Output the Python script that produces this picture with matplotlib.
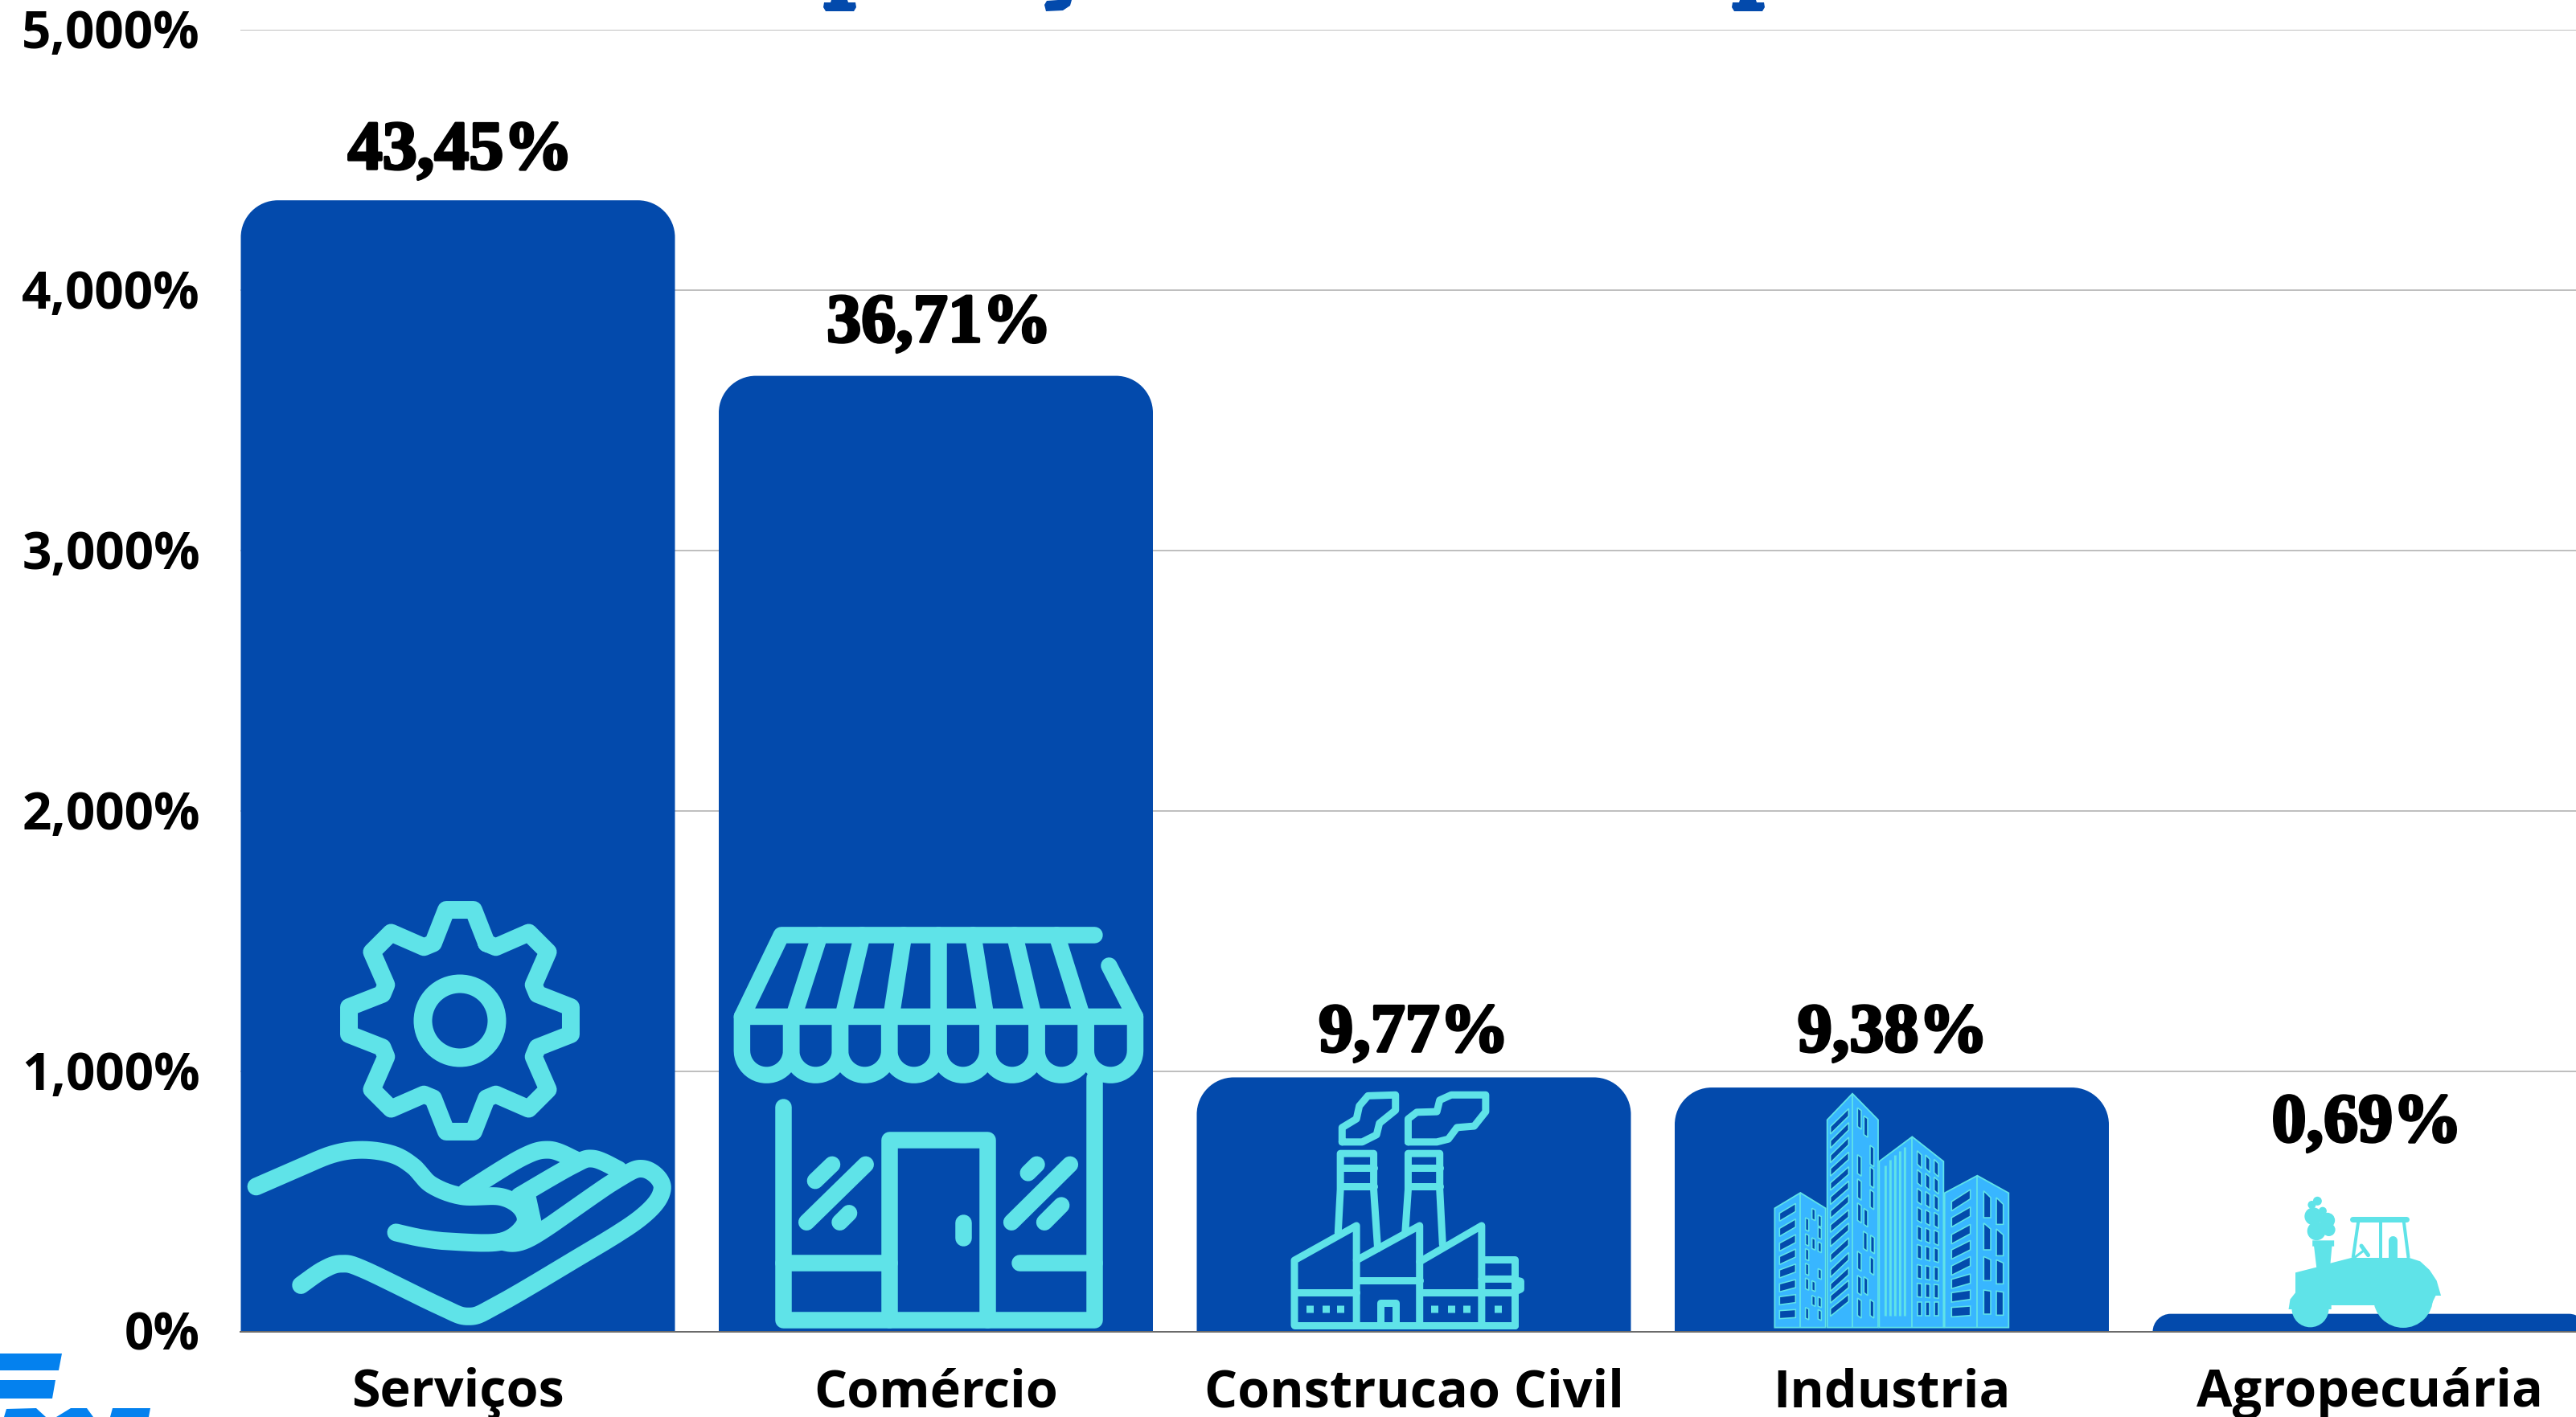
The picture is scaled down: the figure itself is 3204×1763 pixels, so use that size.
from __future__ import annotations

import matplotlib

matplotlib.use("Agg")

import matplotlib.patheffects as pe
import matplotlib.pyplot as plt
import numpy as np
from matplotlib.patches import Ellipse, PathPatch, Polygon
from matplotlib.path import Path
from matplotlib.transforms import ScaledTranslation

WIDTH, HEIGHT = 3204, 1763
DPI = 100
BAR_COLOR = "#034AAC"
ICON_COLOR = "#5FE3E8"
TOWER_COLOR = "#38B6FF"
LOGO_COLOR = "#0481EE"

categories = ["Serviços", "Comércio", "Construcao Civil", "Industria", "Agropecuária"]
values = [4345, 3671, 977, 938, 69]
value_labels = ["43,45%", "36,71%", "9,77%", "9,38%", "0,69%"]
label_heights = [4466, 3802, 1077, 1077, 731]
label_shifts = [0.005, 0.007, 0.0, 0.002, -0.006]
y_ticks = [0, 1000, 2000, 3000, 4000, 5000]
y_tick_labels = ["0%", "1,000%", "2,000%", "3,000%", "4,000%", "5,000%"]


def pts(width_px: float) -> float:
    return width_px * 72 / DPI


def zoomed(points, x0: float, y0: float, sx: float, sy: float) -> np.ndarray:
    arr = np.asarray(points, dtype=float)
    return np.column_stack([x0 + arr[:, 0] / sx, y0 + arr[:, 1] / sy])


def smooth(points: np.ndarray, steps: int = 14) -> np.ndarray:
    # catmull-rom through the traced points, the icons are curvy
    p = np.vstack([points[0], points, points[-1]])
    out = []
    for i in range(1, len(p) - 2):
        for t in np.linspace(0, 1, steps, endpoint=False):
            out.append(
                0.5
                * (
                    2 * p[i]
                    + (p[i + 1] - p[i - 1]) * t
                    + (2 * p[i - 1] - 5 * p[i] + 4 * p[i + 1] - p[i + 2]) * t**2
                    + (3 * p[i] - p[i - 1] - 3 * p[i + 1] + p[i + 2]) * t**3
                )
            )
    out.append(points[-1])
    return np.array(out)


def stroke(ax, line: np.ndarray, width_px: float, color: str = ICON_COLOR, cap: str = "round") -> None:
    ax.plot(line[:, 0], line[:, 1], color=color, lw=pts(width_px), solid_capstyle=cap, solid_joinstyle="round")


def rounded_bar(x: float, top: float, half_width: float, rx: float, ry: float) -> Path:
    left, right = x - half_width, x + half_width
    k = 0.45  # control point distance left from the corner
    verts = [
        (left, 0),
        (left, top - ry),
        (left, top - ry * k),
        (left + rx * k, top),
        (left + rx, top),
        (right - rx, top),
        (right - rx * k, top),
        (right, top - ry * k),
        (right, top - ry),
        (right, 0),
        (left, 0),
    ]
    codes = [Path.MOVETO, Path.LINETO, Path.CURVE4, Path.CURVE4, Path.CURVE4, Path.LINETO, Path.CURVE4, Path.CURVE4, Path.CURVE4, Path.LINETO, Path.CLOSEPOLY]
    return Path(verts, codes)


def draw_gear_hand(ax) -> None:
    cx, cy = 572, 1270
    ring = Ellipse((cx, cy), 92, 92, fill=False, ec=ICON_COLOR, lw=pts(23))
    ax.add_patch(ring)
    gear = []
    for k in range(8):
        a = np.deg2rad(90 + 45 * k)
        for radius, delta in [(102, -19), (139, -7), (139, 7), (102, 19)]:
            d = np.deg2rad(delta)
            gear.append((cx + radius * np.cos(a + d), cy - radius * np.sin(a + d)))
    gear.append(gear[0])
    stroke(ax, np.array(gear), 22)

    hand = lambda line: zoomed(line, 0, 1100, 1.742, 2.365)
    arm = [(555, 890), (640, 840), (720, 795), (785, 782), (850, 795), (895, 830), (935, 885), (1000, 918), (1085, 920), (1130, 955), (1135, 1005), (1085, 1052), (980, 1052), (915, 1042), (858, 1025)]
    palm = [(652, 1180), (700, 1135), (740, 1117), (790, 1135), (950, 1240), (1015, 1272), (1075, 1240), (1220, 1125), (1385, 985), (1435, 895), (1395, 838), (1330, 875), (1150, 1040), (1085, 1052)]
    finger_one = [(1010, 905), (1130, 805), (1190, 782), (1245, 810)]
    finger_two = [(1125, 918), (1240, 828), (1285, 808), (1340, 840)]
    for line in (arm, palm, finger_one, finger_two):
        stroke(ax, smooth(hand(line)), 22)
    stroke(ax, hand([(1150, 925), (1162, 1000)]), 14)


def draw_store(ax) -> None:
    store = lambda line: zoomed(line, 880, 1100, 2.613, 2.365)
    stroke(ax, store([(1258, 150), (240, 150), (112, 390), (1390, 390), (1305, 240)]), 20.5)
    rib_tops = [365, 503, 638, 750, 863, 998, 1135]
    rib_bottoms = [280, 440, 597, 750, 905, 1060, 1218]
    for top, bottom in zip(rib_tops, rib_bottoms):
        stroke(ax, store([(top, 150), (bottom, 390)]), 20.5)
    edges = [112, 272, 431, 591, 751, 910, 1070, 1230, 1390]
    for left, right in zip(edges[:-1], edges[1:]):
        t = np.linspace(np.pi, 0, 24)
        arc = [(left, 390)] + list(zip((left + right) / 2 + (right - left) / 2 * np.cos(t), 490 + 72 * np.sin(t))) + [(right, 390)]
        stroke(ax, store(arc), 20.5)
    lines = [
        [(245, 655), (245, 1282), (1256, 1282), (1256, 570)],
        [(591, 1282), (591, 752), (910, 752), (910, 1282)],
        [(245, 1113), (591, 1113)],
        [(1015, 1113), (1256, 1113)],
        [(830, 995), (830, 1040)],
        [(322, 995), (514, 825)],
        [(350, 873), (405, 825)],
        [(430, 995), (460, 968)],
        [(988, 995), (1178, 825)],
        [(1042, 850), (1070, 825)],
        [(1095, 995), (1150, 945)],
    ]
    for line in lines:
        stroke(ax, store(line), 20.5)


def draw_factory(ax) -> None:
    fac = lambda line: zoomed(line, 1480, 1200, 1.4, 2.785)
    smoke_one = [(265, 615), (265, 565), (290, 535), (295, 490), (310, 455), (358, 452), (358, 505), (330, 550), (325, 590), (300, 615), (265, 615)]
    smoke_two = [(380, 615), (380, 535), (395, 512), (430, 510), (435, 470), (455, 452), (515, 452), (515, 510), (495, 560), (465, 565), (450, 605), (430, 615), (380, 615)]
    lines = [
        smoke_one,
        smoke_two,
        [(258, 930), (262, 780), (262, 655), (320, 655), (320, 780), (327, 985)],
        [(375, 925), (380, 780), (380, 655), (435, 655), (435, 780), (440, 970)],
        [(262, 705), (320, 705)],
        [(262, 770), (320, 770)],
        [(380, 705), (435, 705)],
        [(380, 770), (435, 770)],
        [(182, 1250), (182, 1025), (290, 905), (290, 1250)],
        [(290, 1025), (400, 905), (400, 1250)],
        [(400, 1030), (508, 905), (508, 1250)],
        [(508, 1023), (565, 1023), (565, 1250)],
        [(182, 1250), (565, 1250)],
        [(182, 1135), (290, 1135)],
        [(290, 1095), (400, 1095)],
        [(400, 1135), (565, 1135)],
        [(508, 1090), (560, 1090), (576, 1098), (576, 1125), (565, 1135)],
        [(332, 1245), (332, 1172), (358, 1172), (358, 1245)],
    ]
    for line in lines:
        stroke(ax, fac(line), 9)
    for x in [208, 237, 262, 426, 455, 482, 536]:
        stroke(ax, fac([(x, 1180), (x, 1205)]), 9, cap="butt")


def window(ax, corners) -> None:
    ax.add_patch(Polygon(corners, closed=True, fc=BAR_COLOR, ec=ICON_COLOR, lw=pts(1.6)))


def draw_towers(ax) -> None:
    tow = lambda line: zoomed(line, 2180, 1350, 3, 3)
    outlines = [
        ([(82, 905), (82, 460), (178, 402), (272, 460), (272, 905)], 178, 402),
        ([(278, 905), (278, 130), (372, 32), (468, 130), (468, 905)], 372, 32),
        ([(472, 905), (472, 285), (595, 193), (712, 285), (712, 905)], 595, 193),
        ([(716, 905), (716, 403), (838, 338), (955, 403), (955, 905)], 838, 338),
    ]
    for outline, ridge, ridge_top in outlines:
        ax.add_patch(Polygon(tow(outline), closed=True, fc=TOWER_COLOR, ec=ICON_COLOR, lw=pts(1.8)))
        stroke(ax, tow([(ridge, ridge_top), (ridge, 905)]), 1.8, cap="butt")

    # slanted windows on the left faces
    left_faces = [
        (100, 160, 30, [(478, 442), (535, 500), (590, 558), (640, 612), (690, 668), (742, 726), (790, 782), (842, 838)]),
        (290, 358, 28, [(155, 88), (208, 140), (262, 195), (312, 250), (365, 305), (418, 358), (470, 410), (522, 465), (575, 515), (632, 570), (690, 625), (742, 680), (786, 728), (835, 780)]),
        (742, 812, 35, [(435, 390), (495, 455), (558, 520), (615, 580), (675, 640), (725, 705), (775, 765), (830, 825)]),
    ]
    for x0, x1, h, rows in left_faces:
        for y0, y1 in rows:
            window(ax, tow([(x0, y0), (x1, y1), (x1, y1 + h), (x0, y0 + h)]))

    # small windows on the right faces, (x, y, height)
    small = [
        (14, 10, [(398, 85, 70), (422, 115, 70), (445, 225, 70), (398, 260, 70), (445, 305, 70), (398, 350, 70), (445, 390, 65), (398, 440, 65), (422, 460, 60), (420, 545, 65), (447, 560, 60), (398, 620, 65), (445, 640, 60), (398, 710, 65), (422, 715, 60), (398, 795, 65), (445, 800, 60)]),
        (12, 6, [(203, 495, 45), (227, 460, 40), (250, 485, 40), (203, 555, 40), (227, 570, 40), (250, 530, 40), (250, 585, 35), (203, 610, 40), (203, 665, 40), (250, 685, 35), (203, 720, 40), (227, 730, 35), (227, 785, 35), (250, 790, 35), (203, 830, 40), (250, 838, 35)]),
    ]
    for w, drop, rows in small:
        for x, y, h in rows:
            window(ax, tow([(x - w / 2, y), (x + w / 2, y + drop), (x + w / 2, y + h + drop), (x - w / 2, y + h)]))
    grid_rows = [(245, 16), (315, 14), (385, 12), (455, 10), (525, 8), (595, 6), (670, 4), (740, 2), (810, 0)]
    for row, drop in grid_rows:
        for col, x in enumerate([622, 653, 685]):
            y = row + col * drop
            window(ax, tow([(x - 8, y), (x + 8, y + drop), (x + 8, y + 50 + drop), (x - 8, y + 50)]))
    for row, offset in [(395, 25), (515, 22), (640, 12), (765, 4)]:
        for x, y in [(875, row), (922, row + offset)]:
            window(ax, tow([(x - 13, y), (x + 13, y + offset), (x + 13, y + 90 + (row < 600) * 10), (x - 13, y + 90 + (row < 600) * 10)]))
    for x, top in [(495, 300), (513, 280), (532, 262), (550, 247), (568, 230)]:
        stroke(ax, tow([(x, top), (x, 862)]), 3.2, color=ICON_COLOR, cap="butt")
        stroke(ax, tow([(x + 9, top + 2), (x + 9, 862)]), 2.4, color=TOWER_COLOR, cap="butt")


def draw_tractor(ax) -> None:
    tr = lambda line: zoomed(line, 2600, 1300, 2.596, 3)
    body = [(662, 850), (730, 830), (722, 752), (717, 752), (717, 730), (787, 730), (787, 752), (780, 752), (775, 815), (842, 795), (1030, 795), (1065, 808), (1095, 840), (1118, 880), (1132, 936), (1115, 936), (1100, 972), (778, 972), (778, 987), (640, 987), (645, 950), (662, 925)]
    ax.add_patch(Polygon(tr(body), closed=True, fc=ICON_COLOR, ec="none"))
    for (x, y), r in [(tr([(1010, 945)])[0], 37), (tr([(710, 985)])[0], 23)]:
        ax.add_patch(Ellipse((x, y), 2 * r, 2 * r, fc=ICON_COLOR, ec="none"))
    stroke(ax, tr([(845, 650), (1020, 650)]), 7)
    for line in ([(865, 660), (848, 795)], [(938, 660), (938, 795)], [(1012, 660), (1027, 795)]):
        stroke(ax, tr(line), 4, cap="butt")
    stroke(ax, tr([(975, 730), (975, 795)]), 11)
    stroke(ax, tr([(875, 750), (897, 785)]), 5)
    stroke(ax, tr([(880, 770), (855, 792)]), 3)
    puffs = [(733, 583, 5.5), (715, 597, 5), (750, 620, 5), (720, 640, 11), (765, 655, 9.5), (730, 695, 11.5), (770, 690, 8)]
    for x, y, r in puffs:
        centre = tr([(x, y)])[0]
        ax.add_patch(Ellipse(centre, 2 * r, 2 * r, fc=ICON_COLOR, ec="none"))


def draw_cut_off_pieces(ax) -> None:
    # what is left of the title and the logo at the image edges
    for x in (1024, 2154):
        ax.add_patch(Polygon([(x + 10, 0), (x + 30, 0), (x + 31, 3), (x + 40, 3), (x + 41, 9), (x + 38, 14), (x + 3, 14), (x, 9), (x + 1, 3), (x + 9, 3)], closed=True, fc=BAR_COLOR, ec="none"))
    ax.add_patch(Polygon([(1333, 0), (1331, 7), (1322, 13), (1301, 14), (1299, 6), (1302, 1), (1316, 0)], closed=True, fc=BAR_COLOR, ec="none"))
    logo = [
        [(0, 1684), (77, 1684), (73, 1705), (0, 1705)],
        [(0, 1717), (69, 1717), (65, 1740), (0, 1740)],
        [(5, 1763), (8, 1753), (45, 1752), (57, 1763)],
        [(70, 1763), (88, 1752), (108, 1752), (116, 1763)],
        [(137, 1763), (140, 1752), (187, 1752), (185, 1763)],
    ]
    for shape in logo:
        ax.add_patch(Polygon(shape, closed=True, fc=LOGO_COLOR, ec="none"))


def main() -> None:
    fig = plt.figure(figsize=(WIDTH / DPI, HEIGHT / DPI), dpi=DPI)
    ax = fig.add_axes([299 / WIDTH, 1 - 1657 / HEIGHT, (WIDTH - 299) / WIDTH, (1657 - 37) / HEIGHT])
    pitch = 594.5
    x = np.arange(len(categories))
    ax.set_xlim((299 - 569.5) / pitch, (WIDTH - 569.5) / pitch)
    ax.set_ylim(0, 5000)

    ax.set_axisbelow(True)
    ax.grid(axis="y", color="#BFBFBF", lw=pts(2))
    ax.set_yticks(y_ticks, y_tick_labels, fontfamily="Open Sans", fontweight="bold", fontsize=46)
    ax.set_xticks(x, categories, fontfamily="Open Sans", fontweight="bold", fontsize=46.5)
    ax.tick_params(axis="y", length=0, pad=36)
    ax.tick_params(axis="x", length=0, pad=67)
    down = ScaledTranslation(0, -6 / DPI, fig.dpi_scale_trans)
    for label in ax.get_xticklabels():
        label.set_verticalalignment("baseline")
    for label in ax.get_yticklabels():
        label.set_verticalalignment("center")
        label.set_transform(label.get_transform() + down)
    for side in ("top", "left", "right"):
        ax.spines[side].set_visible(False)
    ax.spines["bottom"].set_color("#6B6B6B")
    ax.spines["bottom"].set_linewidth(pts(2))

    px_per_unit = (1657 - 37) / 5000
    for pos, value in zip(x, values):
        corner = min(46, value * px_per_unit)
        patch = PathPatch(rounded_bar(pos, value, 270 / pitch, corner / pitch, corner / px_per_unit), fc=BAR_COLOR, ec="none", zorder=2)
        ax.add_patch(patch)

    for pos, height, shift, text in zip(x, label_heights, label_shifts, value_labels):
        ax.text(
            pos + shift,
            height,
            text,
            ha="center",
            va="baseline",
            family="Liberation Serif",
            fontweight="bold",
            fontsize=62,
            color="black",
            path_effects=[pe.withStroke(linewidth=pts(3.5), foreground="black")],
            clip_on=False,
        )

    overlay = fig.add_axes([0, 0, 1, 1], facecolor="none")
    overlay.set_xlim(0, WIDTH)
    overlay.set_ylim(HEIGHT, 0)
    overlay.axis("off")
    draw_gear_hand(overlay)
    draw_store(overlay)
    draw_factory(overlay)
    draw_towers(overlay)
    draw_tractor(overlay)
    draw_cut_off_pieces(overlay)

    fig.savefig("out.png", dpi=DPI, facecolor="white")
    plt.close(fig)


if __name__ == "__main__":
    main()
